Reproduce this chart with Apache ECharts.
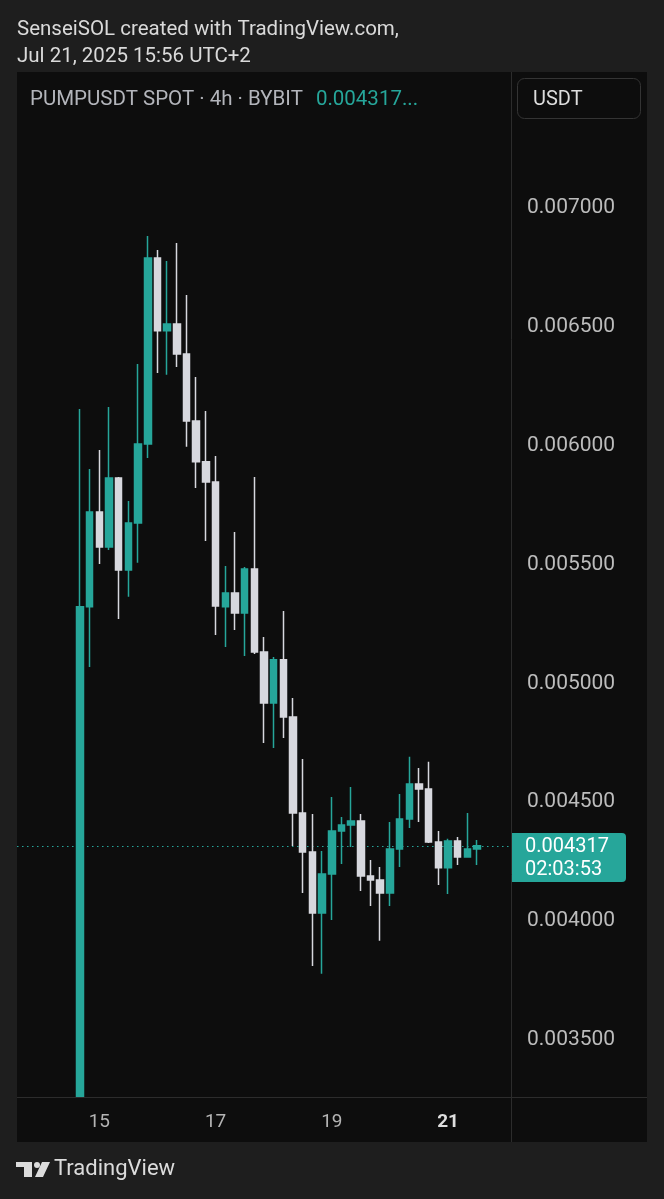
<!DOCTYPE html>
<html>
<head>
<meta charset="utf-8">
<script src="https://cdn.jsdelivr.net/npm/echarts@6/dist/echarts.min.js"></script>
<style>
html,body{margin:0;padding:0;background:#1e1e1e;}
#c{width:664px;height:1199px;}
</style>
</head>
<body>
<div id="c"></div>
<script>
// ---- data ----
const categories = [
 '14 16:00','14 20:00',
 '15 00:00','15 04:00','15 08:00','15 12:00','15 16:00','15 20:00',
 '16 00:00','16 04:00','16 08:00','16 12:00','16 16:00','16 20:00',
 '17 00:00','17 04:00','17 08:00','17 12:00','17 16:00','17 20:00',
 '18 00:00','18 04:00','18 08:00','18 12:00','18 16:00','18 20:00',
 '19 00:00','19 04:00','19 08:00','19 12:00','19 16:00','19 20:00',
 '20 00:00','20 04:00','20 08:00','20 12:00','20 16:00','20 20:00',
 '21 00:00','21 04:00','21 08:00','21 12:00'
];
const opens = [0.00326,0.005322,0.005721,0.005574,0.005864,0.005477,0.005675,0.006007,0.006790,0.006483,
 0.006512,0.006386,0.006104,0.005932,0.005847,0.005322,0.005380,0.005296,0.005481,0.005132,
 0.004918,0.005099,0.004859,0.004455,0.004291,0.004034,0.004198,0.004379,0.004404,0.004421,
 0.004190,0.004173,0.004118,0.004303,0.004430,0.004577,0.004556,0.004333,0.004224,0.004337,
 0.004270,0.004303];
const closes = [0.005322,0.005721,0.005574,0.005864,0.005477,0.005675,0.006007,0.006790,0.006483,0.006512,
 0.006386,0.006104,0.005932,0.005847,0.005326,0.005380,0.005296,0.005481,0.005132,0.004918,
 0.005099,0.004859,0.004455,0.004291,0.004034,0.004198,0.004379,0.004404,0.004421,0.004190,
 0.004173,0.004118,0.004303,0.004430,0.004577,0.004556,0.004333,0.004224,0.004337,0.004270,
 0.004303,0.004317];
const highs = [0.006154,0.005902,0.005982,0.006163,0.005868,0.005767,0.006344,0.006882,0.006823,0.006777,
 0.006853,0.006634,0.006289,0.006146,0.005957,0.005494,0.005637,0.005490,0.005868,0.005195,
 0.005111,0.005305,0.004939,0.004682,0.004451,0.004295,0.004522,0.004438,0.004564,0.004451,
 0.004257,0.004228,0.004417,0.004535,0.004691,0.004644,0.004670,0.004379,0.004346,0.004354,
 0.004455,0.004341];
const lows = [0.00326,0.005069,0.005502,0.005561,0.005271,0.005364,0.005507,0.005948,0.006306,0.006298,
 0.006331,0.005995,0.005822,0.005599,0.005204,0.005153,0.005225,0.005115,0.005124,0.004749,
 0.004728,0.004770,0.004316,0.004118,0.003811,0.003778,0.004005,0.004240,0.004312,0.004127,
 0.004064,0.003917,0.004064,0.004228,0.004392,0.004417,0.004329,0.004152,0.004114,0.004236,
 0.004266,0.004236];
const yTicks = [0.0035,0.0040,0.0045,0.0050,0.0055,0.0060,0.0065,0.0070];
const xTickLabels = {'15 00:00':'15','17 00:00':'17','19 00:00':'19','21 00:00':'21'};
const xBoldTick = '21 00:00';
const yMin = 0.00326, yMax = 0.007572;
const lastPrice = 0.004317;
const countdown = '02:03:53';
const headerLines = ['SenseiSOL created with TradingView.com,','Jul 21, 2025 15:56 UTC+2'];
const symbolText = 'PUMPUSDT SPOT · 4h · BYBIT';
const currency = 'USDT';

// ---- build ----
const UP = '#26a69a', DOWN = '#d7d8de';
const padBefore = 6, padAfter = 3;
const cats = [];
const ohlc = [];
for (let i = 0; i < padBefore; i++) { cats.push('pb' + i); ohlc.push(['-','-','-','-']); }
categories.forEach((c, i) => { cats.push(c); ohlc.push([opens[i], closes[i], lows[i], highs[i]]); });
for (let i = 0; i < padAfter; i++) { cats.push('pa' + i); ohlc.push(['-','-','-','-']); }

const FONT = 'Roboto, "Noto Sans", sans-serif';

function renderPriceLine(params, api) {
  const cs = params.coordSys;
  const y = Math.round(api.coord([api.value(0), api.value(1)])[1]) + 0.5;
  const right = cs.x + cs.width;
  return {
    type: 'group',
    children: [
      {type: 'line', shape: {x1: cs.x, y1: y, x2: right, y2: y},
       style: {stroke: UP, lineWidth: 1, lineDash: [1.5, 3.5]}},
      {type: 'rect', shape: {x: right + 1, y: y - 13.5, width: 114, height: 49, r: [0, 4, 4, 0]},
       style: {fill: UP}},
      {type: 'text', style: {x: right + 14, y: y, text: api.value(1).toFixed(6),
        font: '20px ' + FONT, fill: '#ffffff', verticalAlign: 'middle', textVerticalAlign: 'middle'}},
      {type: 'text', style: {x: right + 14, y: y + 23, text: countdown,
        font: '20px ' + FONT, fill: '#ffffff', verticalAlign: 'middle', textVerticalAlign: 'middle'}}
    ]
  };
}

const chart = echarts.init(document.getElementById('c'), null, {renderer: 'canvas'});
chart.setOption({
  backgroundColor: '#1e1e1e',
  animation: false,
  grid: {left: 17, right: 153, top: 72, bottom: 102, containLabel: false},
  xAxis: {
    type: 'category', data: cats, boundaryGap: true,
    axisLine: {show: false}, axisTick: {show: false}, splitLine: {show: false},
    axisLabel: {
      interval: (idx, val) => xTickLabels[val] !== undefined,
      formatter: (val) => val === xBoldTick ? '{b|' + xTickLabels[val] + '}' : '{n|' + (xTickLabels[val] || '') + '}',
      margin: 16,
      rich: {
        n: {fontSize: 19, color: '#b4b4b4', fontFamily: FONT},
        b: {fontSize: 19, color: '#dedede', fontWeight: 'bold', fontFamily: FONT}
      }
    }
  },
  yAxis: {
    type: 'value', position: 'right', min: yMin, max: yMax, scale: true,
    axisLine: {show: false}, axisTick: {show: false}, splitLine: {show: false},
    axisLabel: {
      customValues: yTicks,
      formatter: (v) => v.toFixed(6),
      margin: 16, align: 'left', color: '#bcbcbc', fontSize: 21, fontFamily: FONT,
      padding: [4, 0, 0, 0]
    }
  },
  graphic: [
    {type: 'rect', z: -10, silent: true, shape: {x: 17, y: 72, width: 630, height: 1070}, style: {fill: '#0d0d0d'}},
    {type: 'line', z: 100, silent: true, shape: {x1: 511.5, y1: 72, x2: 511.5, y2: 1142}, style: {stroke: '#2c2c2c', lineWidth: 1}},
    {type: 'line', z: 100, silent: true, shape: {x1: 17, y1: 1097.5, x2: 647, y2: 1097.5}, style: {stroke: '#2c2c2c', lineWidth: 1}},
    {type: 'rect', z: 100, silent: true, shape: {x: 517.5, y: 78.5, width: 123, height: 40, r: 7}, style: {fill: '#0d0d0d', stroke: '#343434', lineWidth: 1}},
    {type: 'text', z: 100, silent: true, style: {x: 533, y: 100, text: currency, font: '20px ' + FONT, fill: '#dcdcdc', textVerticalAlign: 'middle', verticalAlign: 'middle'}},
    {type: 'text', z: 100, silent: true, style: {x: 17, y: 30, text: headerLines[0], font: '20.5px ' + FONT, fill: '#dadada', textVerticalAlign: 'middle', verticalAlign: 'middle'}},
    {type: 'text', z: 100, silent: true, style: {x: 17, y: 57, text: headerLines[1], font: '20.5px ' + FONT, fill: '#dadada', textVerticalAlign: 'middle', verticalAlign: 'middle'}},
    {type: 'text', z: 100, silent: true, style: {
      x: 30, y: 100, text: '{a|' + symbolText + '}{b|' + lastPrice.toFixed(6) + '...}',
      textVerticalAlign: 'middle', verticalAlign: 'middle',
      rich: {
        a: {fontSize: 20.5, fontFamily: FONT, fill: '#b3b5bb', padding: [0, 13, 0, 0]},
        b: {fontSize: 20.5, fontFamily: FONT, fill: UP}
      }
    }},
    // TradingView logo
    {type: 'polygon', z: 100, silent: true, shape: {points: [[16,1162],[32,1162],[32,1177],[24,1177],[24,1167],[16,1167]]}, style: {fill: '#dcdcdc'}},
    {type: 'circle', z: 100, silent: true, shape: {cx: 37, cy: 1165, r: 3}, style: {fill: '#dcdcdc'}},
    {type: 'polygon', z: 100, silent: true, shape: {points: [[42,1162],[50,1162],[43,1177],[35,1177]]}, style: {fill: '#dcdcdc'}},
    {type: 'text', z: 100, silent: true, style: {x: 54, y: 1169, text: 'TradingView', font: '22px ' + FONT, fill: '#dcdcdc', textVerticalAlign: 'middle', verticalAlign: 'middle'}}
  ],
  series: [{
    type: 'candlestick',
    data: ohlc,
    clip: true,
    barWidth: 7,
    z: 3,
    itemStyle: {color: UP, color0: DOWN, borderColor: UP, borderColor0: DOWN, borderWidth: 1.5}
  }, {
    type: 'custom',
    z: 2,
    clip: false,
    silent: true,
    data: [[categories[categories.length - 1], lastPrice]],
    renderItem: renderPriceLine
  }]
});
</script>
</body>
</html>
